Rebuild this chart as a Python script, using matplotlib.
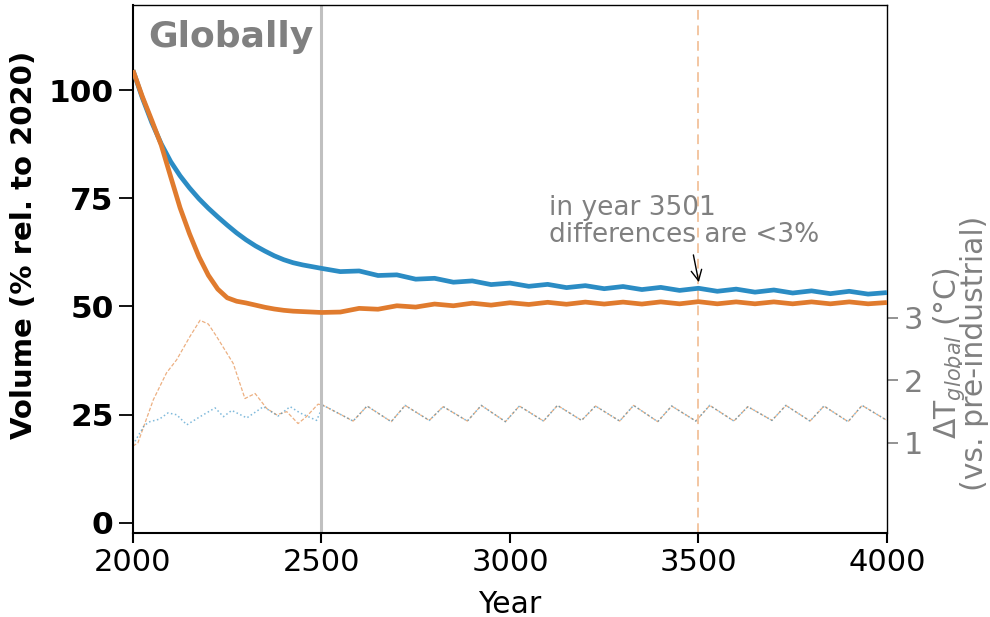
import matplotlib

matplotlib.use("Agg")
import matplotlib.pyplot as plt
import numpy as np

# ── Glacier volume (% rel. to 2020), two temperature scenarios ──────────────
vol_years = [2000, 2025, 2050, 2075, 2100, 2125, 2150, 2175, 2200, 2225,
             2250, 2275, 2300, 2325, 2350, 2375, 2400, 2425, 2450, 2475,
             2500, 2550, 2600, 2650, 2700, 2750, 2800, 2850, 2900, 2950,
             3000, 3050, 3100, 3150, 3200, 3250, 3300, 3350, 3400, 3450,
             3500, 3550, 3600, 3650, 3700, 3750, 3800, 3850, 3900, 3950,
             4000]
vol_stab = [104.6, 98.2, 92.5, 87.6, 83.5, 80.2, 77.4, 74.9, 72.7, 70.7,
            68.8, 67.0, 65.4, 64.0, 62.8, 61.7, 60.8, 60.1, 59.6, 59.2,
            58.8, 58.05, 58.2, 57.15, 57.3, 56.3, 56.5, 55.6, 55.9, 55.05,
            55.4, 54.65, 55.1, 54.35, 54.8, 54.1, 54.6, 53.9, 54.4, 53.7,
            54.2, 53.5, 54.0, 53.3, 53.8, 53.1, 53.6, 52.95, 53.5, 52.85,
            53.2]
vol_over = [104.6, 98.5, 93.0, 87.3, 80.0, 72.8, 66.8, 61.5, 57.2, 54.0,
            52.0, 51.2, 50.8, 50.3, 49.8, 49.4, 49.1, 48.9, 48.8, 48.7,
            48.6, 48.7, 49.55, 49.35, 50.15, 49.85, 50.55, 50.15, 50.75, 50.3,
            50.85, 50.45, 50.95, 50.5, 51.0, 50.55, 51.0, 50.55, 51.05, 50.6,
            51.1, 50.6, 51.05, 50.6, 51.05, 50.6, 51.05, 50.6, 51.05, 50.6,
            50.9]

# ── Global mean temperature (°C vs. pre-industrial) ─────────────────────────
temp_stab_years = [2000, 2030, 2045, 2070, 2093, 2116, 2143, 2178, 2218, 2240,
                   2262, 2302, 2346, 2385, 2417, 2443, 2487]
temp_stab_early = [0.97, 1.28, 1.34, 1.38, 1.48, 1.45, 1.29, 1.42, 1.56, 1.42,
                   1.52, 1.40, 1.58, 1.43, 1.58, 1.48, 1.36]
temp_over_years = [2000, 2013, 2054, 2089, 2116, 2151, 2178, 2200, 2222, 2266,
                   2297, 2324, 2355, 2381, 2408, 2438, 2460, 2491]
temp_over_early = [0.95, 1.0, 1.69, 2.12, 2.33, 2.70, 2.96, 2.90, 2.70, 2.27,
                   1.71, 1.79, 1.55, 1.45, 1.50, 1.31, 1.42, 1.62]
# after 2500 both scenarios repeat the same climate cycle
temp_late_years = [2505, 2584, 2621, 2685, 2722, 2786, 2823, 2887, 2924, 2988,
                   3025, 3089, 3126, 3190, 3227, 3291, 3328, 3392, 3429, 3493,
                   3530, 3594, 3631, 3695, 3732, 3796, 3833, 3897, 3934, 4000]
temp_late = [1.60, 1.35, 1.59, 1.34, 1.60, 1.36, 1.58, 1.35, 1.60, 1.34,
             1.59, 1.35, 1.60, 1.36, 1.59, 1.35, 1.60, 1.34, 1.59, 1.35,
             1.60, 1.35, 1.58, 1.36, 1.60, 1.35, 1.59, 1.34, 1.60, 1.36]

BLUE = "#2b8cc4"
ORANGE = "#e07b2e"
GREY = "#808080"

fig = plt.figure(figsize=(9.9, 6.17), dpi=100)
ax = fig.add_axes([0.1343, 0.1361, 0.7616, 0.8558])
ax2 = ax.twinx()

# temperature (thin, on the right axis)
t_stab = (temp_stab_years + temp_late_years, temp_stab_early + temp_late)
t_over = (temp_over_years + temp_late_years, temp_over_early + temp_late)
ax2.plot(*t_over, ls="--", lw=0.9, c=ORANGE, alpha=0.6, dashes=(3, 1.5))
ax2.plot(*t_stab, ls=":", lw=1.1, c=BLUE, alpha=0.6)
ax2.set_ylim(-0.44, 8.0)
ax2.set_yticks([1, 2, 3])
ax2.tick_params(axis="y", colors=GREY, labelsize=22, length=8, width=1.2,
                pad=4)
ax2.set_ylabel("$\\Delta$T$_{global}$ (°C)\n(vs. pre-industrial)",
               color=GREY, fontsize=21.5, linespacing=0.72)
ax2.yaxis.set_label_coords(1.058, 0.34)
for s in ax2.spines.values():
    s.set_visible(False)

# volume (thick, on the left axis)
ax.set_zorder(ax2.get_zorder() + 1)
ax.patch.set_visible(False)
ax.axvline(2500, c="#c0c0c0", lw=2.2, zorder=1)
ax.axvline(3500, c="#f3c6a2", lw=1.4, ls=(0, (5, 3)), zorder=1)
ax.plot(vol_years, vol_stab, c=BLUE, lw=3.4, solid_capstyle="butt", zorder=3)
ax.plot(vol_years, vol_over, c=ORANGE, lw=3.4, solid_capstyle="butt", zorder=4)

ax.set_xlim(2000, 4000)
ax.set_ylim(-2.4, 119.7)
ax.set_xticks(np.arange(2000, 4001, 500))
ax.set_yticks([0, 25, 50, 75, 100])
ax.tick_params(axis="y", labelsize=22.5, length=10, width=1.3, pad=4)
ax.tick_params(axis="x", labelsize=22, length=7, width=1.5, pad=4)
for lbl in ax.get_yticklabels():
    lbl.set_fontweight("bold")
ax.set_xlabel("Year", fontsize=21.5, labelpad=9)
ax.set_ylabel("Volume (% rel. to 2020)", fontsize=21, fontweight="bold")
ax.yaxis.set_label_coords(-0.126, 0.545)
ax.spines["left"].set_linewidth(1.5)
ax.spines["bottom"].set_linewidth(1.5)
ax.spines["top"].set_linewidth(1.0)
ax.spines["right"].set_linewidth(1.0)

ax.text(0.02, 0.972, "Globally", transform=ax.transAxes, ha="left", va="top",
        fontsize=26, fontweight="bold", color=GREY)
ax.annotate("in year 3501\ndifferences are <3%", xy=(3501, 55.6),
            xytext=(3103, 63.5), fontsize=19, color=GREY, ha="left",
            va="bottom", linespacing=1.05,
            arrowprops=dict(arrowstyle="->", color="black", lw=1,
                            shrinkA=3, shrinkB=0,
                            relpos=(0.53, 0.0)))

fig.savefig("out.png", dpi=100)
